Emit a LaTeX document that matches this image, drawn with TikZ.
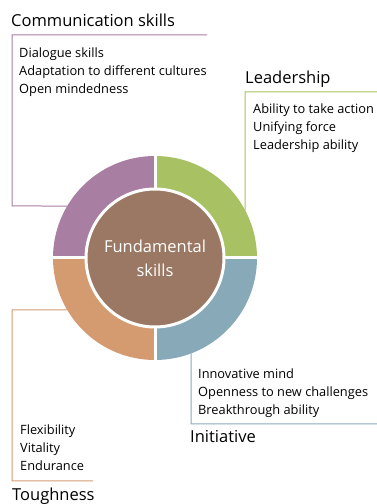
\documentclass[tikz,border=0pt]{standalone}
\usepackage{fontspec}
\setmainfont{Open Sans}
\usetikzlibrary{calc}

\definecolor{commcol}{HTML}{A87EA3}
\definecolor{leadcol}{HTML}{A8C163}
\definecolor{initcol}{HTML}{88A9B7}
\definecolor{toughcol}{HTML}{D59B70}
\definecolor{corecol}{HTML}{9A7864}

\begin{document}
\begin{tikzpicture}[x=1pt,y=1pt,
  head/.style={anchor=base west, inner sep=0pt, font=\fontsize{16.5}{18}\selectfont},
  items/.style={anchor=north west, inner sep=0pt, align=left,
                font=\fontsize{12.8}{18}\selectfont},
  frame/.style={line width=1pt, draw=#1},
  core/.style={circle, fill=corecol, draw=white, line width=3pt,
               minimum size=138pt, text=white, align=center,
               font=\fontsize{16.5}{24}\selectfont}
]
\useasboundingbox (0,0) rectangle (377,504);
\def\ringR{102}
\def\ringr{70}
\coordinate (c) at (155,246);

% ---- frames (drawn first, the ring covers their ends) ----
\draw[frame=commcol]  (207,469) -- (12,469) -- (12,298) -- ($(c)+(149.35:\ringR pt)$);
\draw[frame=leadcol]  (377,412) -- (245,412) -- ($(c)+(28.07:\ringR pt)$);
\draw[frame=initcol]  ($(c)+(-69.33:\ringR pt)$) -- (191,80) -- (377,80);
\draw[frame=toughcol] ($(c)+(210.65:\ringR pt)$) -- (12,194) -- (12,23) -- (93,23);

% ---- ring quarters ----
\foreach \a/\col in {0/leadcol, 90/commcol, 180/toughcol, 270/initcol}
  \fill[\col] ($(c)+(\a:\ringR pt)$) arc[start angle=\a, delta angle=90, radius=\ringR pt]
    -- ($(c)+(\a+90:\ringr pt)$) arc[start angle=\a+90, delta angle=-90, radius=\ringr pt]
    -- cycle;
\draw[white, line width=3pt] ($(c)+(0,\ringR+1)$) -- ($(c)-(0,\ringR+1)$);
\draw[white, line width=3pt] ($(c)+(\ringR+1,0)$) -- ($(c)-(\ringR+1,0)$);

% ---- centre ----
\node[core] (fund) at (c) {Fundamental\\skills};

% ---- communication skills ----
\node[head]  (commhead)  at (11,477) {Communication skills};
\node[items] (commitems) at (19,456) {Dialogue skills\\Adaptation to different cultures\\Open mindedness};

% ---- leadership ----
\node[head]  (leadhead)  at (245,420) {Leadership};
\node[items] (leaditems) at (253,400) {Ability to take action\\Unifying force\\Leadership ability};

% ---- initiative ----
\node[items] (inititems) at (198,135) {Innovative mind\\Openness to new challenges\\Breakthrough ability};
\node[head]  (inithead)  at (190,61) {Initiative};

% ---- toughness ----
\node[items] (toughitems) at (20,79) {Flexibility\\Vitality\\Endurance};
\node[head]  (toughhead)  at (12,3) {Toughness};

\end{tikzpicture}
\end{document}
